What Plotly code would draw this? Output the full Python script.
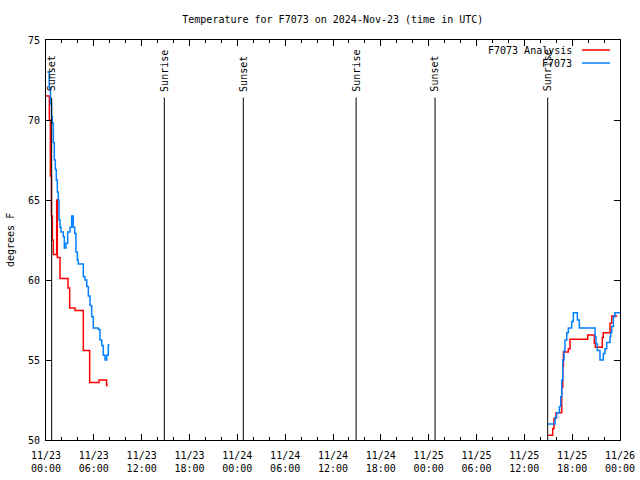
import datetime as dt
import plotly.graph_objects as go

# ---- data (hours after 2024-11-23 00:00 UTC, temperature in deg F) ----
analysis_hours_a = [0.0, 0.42, 0.55, 0.68, 0.80, 0.92, 1.34, 1.42, 1.76, 2.76, 2.97, 3.64, 4.68, 5.48, 6.65, 7.60, 7.75]
analysis_temps_a = [71.5, 70.0, 66.5, 64.0, 62.5, 61.6, 65.0, 61.4, 60.1, 59.5, 58.25, 58.1, 55.6, 53.6, 53.75, 53.4, 53.4]
analysis_hours_b = [63.0, 63.56, 63.72, 63.97, 64.69, 64.82, 64.90, 65.52, 65.73, 67.95, 68.78, 68.90, 69.78, 69.90, 70.75, 70.96, 71.66]
analysis_temps_b = [50.3, 50.7, 51.35, 51.7, 53.3, 54.6, 55.5, 55.7, 56.3, 56.56, 56.04, 55.8, 56.4, 56.7, 57.3, 57.75, 57.75]

obs_hours_a = [0.16, 0.41, 0.56, 0.69, 0.79, 0.92, 1.04, 1.17, 1.29, 1.42, 1.54, 1.63, 1.76, 1.88, 2.17, 2.30, 2.51,
               2.72, 3.01, 3.22, 3.42, 3.60, 3.76, 3.93, 4.05, 4.68, 4.89, 5.11, 5.31, 5.52, 5.73, 5.93, 6.56,
               6.77, 6.99, 7.19, 7.40, 7.61, 7.81, 7.86]
obs_temps_a = [73.0, 72.0, 71.0, 70.2, 69.8, 68.6, 67.5, 66.9, 66.25, 65.5, 65.0, 63.75, 63.3, 63.0, 62.7, 62.0, 62.3,
               63.0, 63.3, 64.0, 63.3, 62.9, 61.75, 61.25, 61.0, 60.2, 60.0, 59.6, 59.0, 58.4, 57.7, 57.0, 56.9,
               56.25, 55.9, 55.3, 55.0, 55.3, 55.9, 56.0]
obs_hours_b = [63.0, 63.85, 64.06, 64.40, 64.57, 64.70, 64.82, 64.98, 65.10, 65.32, 65.52, 65.94, 66.15, 66.65,
               66.90, 68.87, 68.99, 69.15, 69.49, 69.62, 69.90, 70.12, 70.33, 70.75, 70.83, 70.96, 71.17, 71.37, 72.0]
obs_temps_b = [51.0, 51.4, 51.7, 52.1, 52.7, 53.75, 55.0, 55.6, 56.25, 56.7, 57.0, 57.4, 57.95, 57.5,
               57.0, 56.45, 56.0, 55.6, 55.0, 55.0, 55.4, 55.7, 56.1, 56.45, 56.7, 57.1, 57.7, 57.95, 57.95]

event_hours = [0.71, 14.84, 24.75, 38.9, 48.8, 62.93]
event_names = ["Sunset", "Sunrise", "Sunset", "Sunrise", "Sunset", "Sunrise"]

y_ticks = [50, 55, 60, 65, 70, 75]
series_names = ["F7073 Analysis", "F7073"]
series_colors = ["#ff0000", "#0080ff"]

START = dt.datetime(2024, 11, 23, 0, 0)
END = dt.datetime(2024, 11, 26, 0, 0)


def to_time(hours):
    return [START + dt.timedelta(hours=h) for h in hours]


def joined(ha, ta, hb, tb):
    xs = to_time(ha) + [None] + to_time(hb)
    ys = list(ta) + [None] + list(tb)
    return xs, ys


FONT = "DejaVu Sans Mono"

fig = go.Figure()
ax, ay = joined(analysis_hours_a, analysis_temps_a, analysis_hours_b, analysis_temps_b)
ox, oy = joined(obs_hours_a, obs_temps_a, obs_hours_b, obs_temps_b)
fig.add_trace(go.Scatter(x=ax, y=ay, mode="lines", line=dict(color=series_colors[0], width=1.5, shape="hv"),
                         name=series_names[0], connectgaps=False, showlegend=False))
fig.add_trace(go.Scatter(x=ox, y=oy, mode="lines", line=dict(color=series_colors[1], width=1.5, shape="hv"),
                         name=series_names[1], connectgaps=False, showlegend=False))

shapes = []
annotations = []
for h, name in zip(event_hours, event_names):
    t = START + dt.timedelta(hours=h)
    shapes.append(dict(type="line", xref="x", yref="y", x0=t, x1=t, y0=50, y1=71.4,
                       line=dict(color="black", width=1)))
    annotations.append(dict(x=t, y=71.4, xref="x", yref="y", yshift=4, text=name, showarrow=False,
                            textangle=-90, xanchor="center", yanchor="bottom",
                            font=dict(family=FONT, size=10, color="black")))

# legend (gnuplot style: text left of sample line)
leg_y = [0.975, 0.9425]
for name, color, ly in zip(series_names, series_colors, leg_y):
    annotations.append(dict(x=0.9199, y=ly, xref="paper", yref="paper", text=name, showarrow=False,
                            xanchor="right", yanchor="middle",
                            font=dict(family=FONT, size=10, color="black")))
    shapes.append(dict(type="line", xref="paper", yref="paper", x0=0.9338, x1=0.9826, y0=ly, y1=ly,
                       line=dict(color=color, width=1.5)))

# y-axis title
annotations.append(dict(x=-0.0627, y=0.5, xref="paper", yref="paper", text="degrees F", showarrow=False,
                        textangle=-90, xanchor="center", yanchor="middle",
                        font=dict(family=FONT, size=10, color="black")))

fig.update_layout(
    width=640, height=480,
    margin=dict(l=46, r=20, t=40, b=40, autoexpand=False),
    paper_bgcolor="white", plot_bgcolor="white",
    title=dict(text="Temperature for F7073 on 2024-Nov-23 (time in UTC)", x=0.52, xanchor="center",
               y=0.96, yanchor="middle", font=dict(family=FONT, size=10, color="black")),
    font=dict(family=FONT, size=10, color="black"),
    shapes=shapes, annotations=annotations, showlegend=False,
    hovermode=False,
)
fig.update_xaxes(type="date", range=[START, END], dtick=6 * 3600 * 1000, tick0=START,
                 tickformat="%m/%d<br>%H:%M", ticks="inside", ticklen=6, tickcolor="black",
                 minor=dict(dtick=2 * 3600 * 1000, ticks="inside", ticklen=3, tickcolor="black"),
                 showline=True, linecolor="black", linewidth=1, mirror="allticks",
                 showgrid=False, zeroline=False, tickfont=dict(family=FONT, size=10), automargin=False,
                 ticklabelstandoff=6)
fig.update_yaxes(range=[50, 75], tickvals=y_ticks, ticks="inside", ticklen=6, tickcolor="black",
                 showline=True, linecolor="black", linewidth=1, mirror="allticks",
                 showgrid=False, zeroline=False, tickfont=dict(family=FONT, size=10), automargin=False,
                 ticklabelstandoff=3)

fig.write_html("out.html",
               config={"displayModeBar": False},
               post_script="document.body.style.margin='0';document.body.style.overflow='hidden';")
